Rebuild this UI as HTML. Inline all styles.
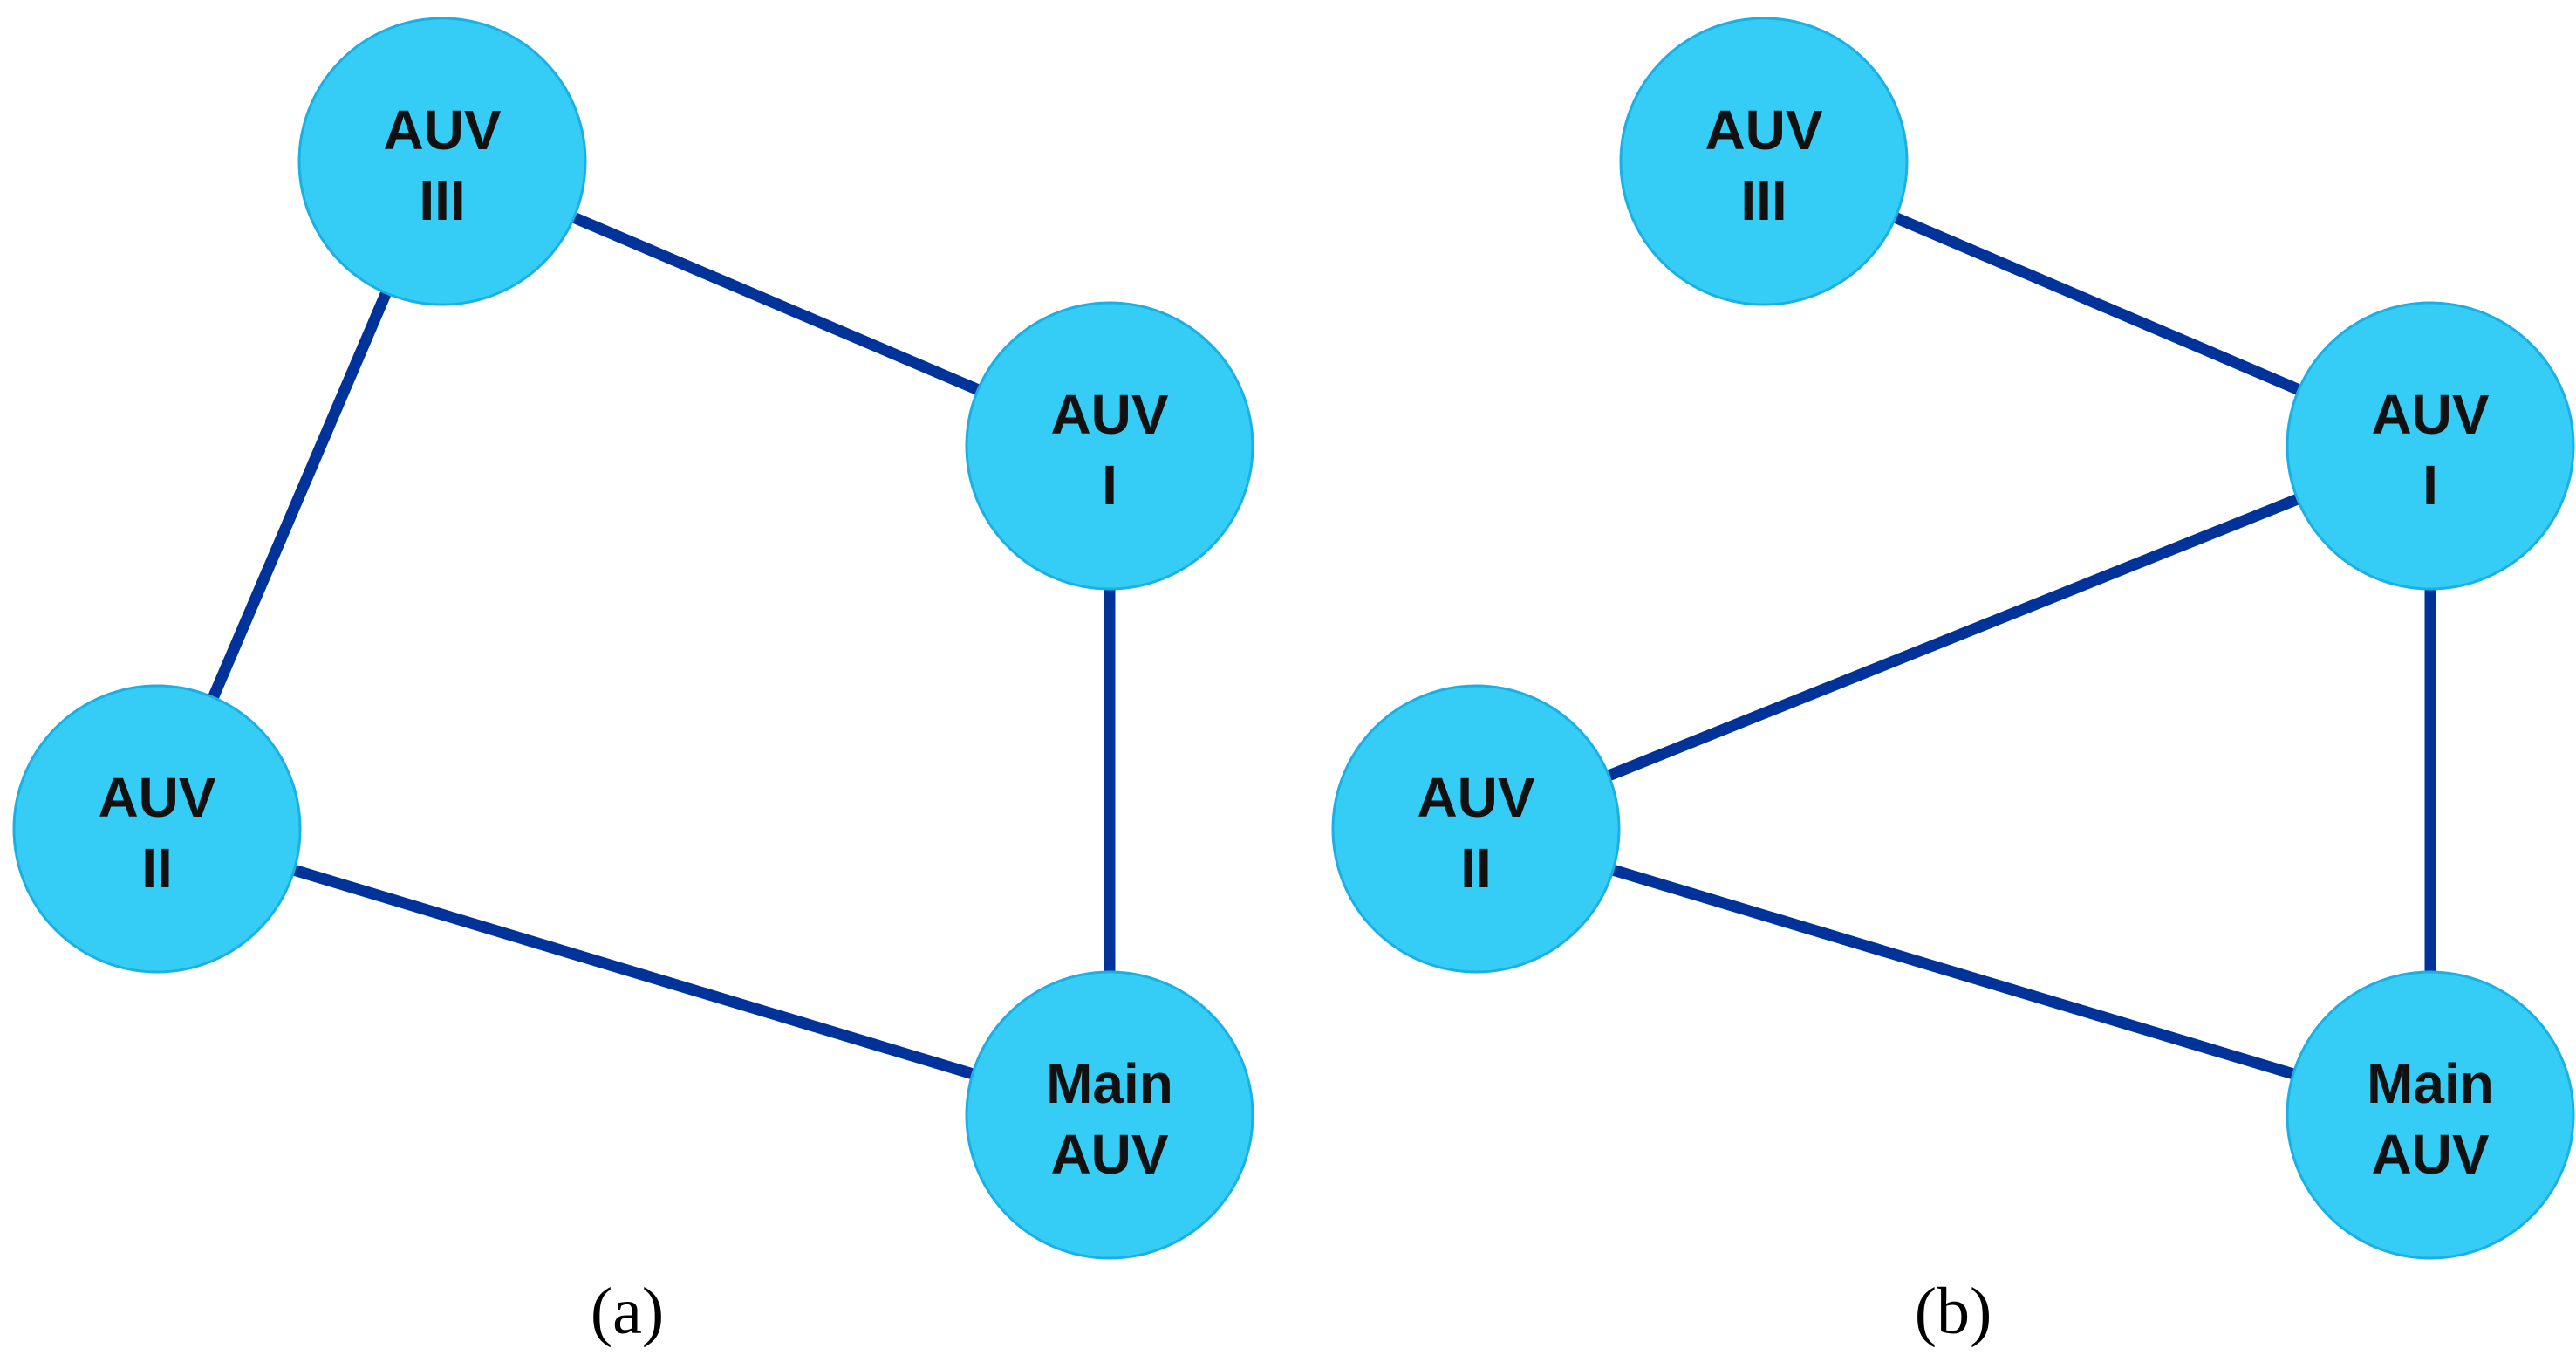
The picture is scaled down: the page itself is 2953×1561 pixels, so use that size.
<!DOCTYPE html>
<html><head><meta charset="utf-8"><style>
html,body{margin:0;padding:0;background:#fff;}
svg{display:block;}
</style></head><body>
<svg width="2953" height="1561" viewBox="0 0 2953 1561" xmlns="http://www.w3.org/2000/svg">
<g stroke="#003399" stroke-width="13" stroke-linecap="butt">
<line x1="507" y1="185" x2="1272" y2="511"/>
<line x1="507" y1="185" x2="180" y2="950"/>
<line x1="180" y1="950" x2="1272" y2="1278"/>
<line x1="1272" y1="511" x2="1272" y2="1278"/>
<line x1="2022" y1="185" x2="2786" y2="511"/>
<line x1="2786" y1="511" x2="1692" y2="950"/>
<line x1="1692" y1="950" x2="2786" y2="1278"/>
<line x1="2786" y1="511" x2="2786" y2="1278"/>
</g>
<g fill="#35cdf5" stroke="#1ab0e4" stroke-width="3">
<circle cx="507" cy="185" r="164"/>
<circle cx="1272" cy="511" r="164"/>
<circle cx="180" cy="950" r="164"/>
<circle cx="1272" cy="1278" r="164"/>
<circle cx="2022" cy="185" r="164"/>
<circle cx="2786" cy="511" r="164"/>
<circle cx="1692" cy="950" r="164"/>
<circle cx="2786" cy="1278" r="164"/>
</g>
<g font-family="Liberation Sans, sans-serif" font-weight="bold" font-size="64" text-anchor="middle" fill="#111" letter-spacing="0" style="font-kerning:none">
<text x="507" y="171">AUV</text><text x="507" y="252">III</text>
<text x="1272" y="497">AUV</text><text x="1272" y="578">I</text>
<text x="180" y="936">AUV</text><text x="180" y="1017">II</text>
<text x="1272" y="1264">Main</text><text x="1272" y="1345">AUV</text>
<text x="2022" y="171">AUV</text><text x="2022" y="252">III</text>
<text x="2786" y="497">AUV</text><text x="2786" y="578">I</text>
<text x="1692" y="936">AUV</text><text x="1692" y="1017">II</text>
<text x="2786" y="1264">Main</text><text x="2786" y="1345">AUV</text>
</g>
<g font-family="Liberation Serif, serif" font-size="76" text-anchor="middle" fill="#000">
<text x="719" y="1528">(a)</text>
<text x="2239" y="1528">(b)</text>
</g>
</svg>
</body></html>
